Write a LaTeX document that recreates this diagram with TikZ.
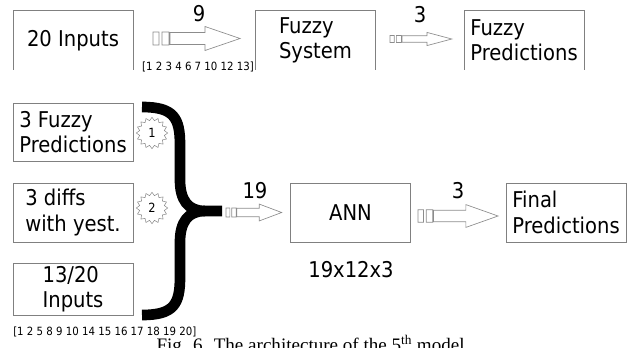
\documentclass[tikz,border=0pt]{standalone}
\usepackage{fontspec}
\setmainfont{DejaVu Sans}[FakeStretch=0.9]
\newfontfamily\capfont{Liberation Serif}
\usepackage{tikz}
\usetikzlibrary{shapes.geometric,calc}
\definecolor{BoxGray}{RGB}{128,128,128}
\definecolor{ArrGray}{RGB}{140,140,140}
\tikzset{
  box/.style={draw=BoxGray,line width=0.75pt,minimum width=90pt,minimum height=44pt,
              inner sep=0pt,align=center,font=\fontsize{16.3}{19}\selectfont},
  lbox/.style={box,align=left},
  idx/.style={font=\fontsize{8.5}{10}\selectfont,inner sep=0pt},
  num/.style={font=\fontsize{16.3}{19}\selectfont,inner sep=0pt},
  starmark/.style={star,star points=16,star point ratio=1.25,draw=ArrGray,line width=0.4pt,
                   minimum size=23.5pt,inner sep=0pt,font=\fontsize{9.5}{10}\selectfont},
  brace/.style={line width=8pt,black,line join=round},
  blockarr/.pic={
    \draw[ArrGray,line width=0.5pt] (0,-6.5) rectangle (6,6.5) (9,-6.5) rectangle (16,6.5)
      (17,-6) -- (52,-6) -- (52,-12) -- (87,0) -- (52,12) -- (52,6) -- (17,6) -- cycle;
  },
}

\begin{document}
\begin{tikzpicture}[x=0.75pt,y=-0.75pt]
  \useasboundingbox (0,0) rectangle (638,347);
  % upper row (cut off at the bottom)
  \begin{scope}
    \clip (0,0) rectangle (638,69);
    \node[box,minimum height=45.75pt] (in20) at (73,40.5) {20 Inputs};
    \node[lbox,minimum height=45.75pt] (fsys) at (315.5,40.5) {Fuzzy\\System};
    \node[lbox,minimum height=45.75pt] (fpred) at (524,40.5) {Fuzzy\\Predictions};
  \end{scope}
  \coordinate (a1) at (153,38.5);
  \coordinate (a2) at (390,39);
  \pic at (a1) {blockarr};
  \pic[xscale=0.71,yscale=0.55] at (a2) {blockarr};
  \node[num] (n9) at (199,14) {9};
  \node[num] (n3a) at (420,15) {3};
  \node[idx] (sel9) at (198,67) {[1 2 3 4 6 7 10 12 13]};

  % lower part
  \node[lbox,minimum height=43.5pt] (pfz) at (73,132) {3 Fuzzy\\Predictions};
  \node[lbox,minimum height=44.25pt] (dif) at (73,212.5) {3 diffs\\with yest.};
  \node[lbox,minimum height=39pt] (in13) at (73,289) {13/20\\Inputs};
  \node[idx,anchor=west] (sel13) at (13,331.5) {[1 2 5 8 9 10 14 15 16 17 18 19 20]};
  \node[starmark] (s1) at (152,133) {1};
  \node[starmark] (s2) at (152,208) {2};

  % brace
  \coordinate (tip) at (205,211);
  \coordinate (tipend) at (222,211);
  \draw[brace] (142,107) .. controls (174,107) and (180,118) .. (180,145) -- (180,180)
    .. controls (180,200) and (188,211) .. (tip) -- (tipend);
  \draw[brace] (142,315) .. controls (174,315) and (180,304) .. (180,277) -- (180,242)
    .. controls (180,222) and (188,211) .. (tip);

  \coordinate (a3) at (226,212.5);
  \coordinate (a4) at (418,216);
  \pic[xscale=0.64,yscale=0.7] at (a3) {blockarr};
  \pic[xscale=0.92,yscale=0.95] at (a4) {blockarr};
  \node[num] (n19) at (255,191) {19};
  \node[num] (n3b) at (458,191) {3};

  \node[box,minimum height=44.25pt] (ann) at (350.5,212.5) {ANN};
  \node[num] (topo) at (351,270) {19x12x3};
  \node[lbox,minimum height=44.25pt] (fin) at (566,212.5) {Final\\Predictions};

  % caption, cut by the page edge
  \node[anchor=base,inner sep=0pt,font=\capfont\fontsize{14.3}{16}\selectfont] (cap) at (313,351)
    {Fig. 6. The architecture of the 5\smash{\textsuperscript{th}} model.};
\end{tikzpicture}
\end{document}
